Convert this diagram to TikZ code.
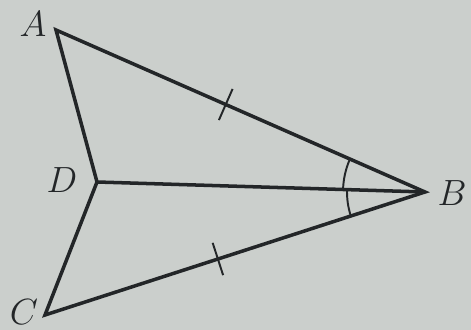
\documentclass[tikz,border=0pt]{standalone}
\usetikzlibrary{calc}
\definecolor{paper}{RGB}{203,207,204}
\definecolor{ink}{RGB}{35,38,40}
\tikzset{>=latex}
\tikzstyle{side} = [ink, line width=2pt, line join=miter]
\tikzstyle{tickline} = [ink, line width=1.1pt]
\tikzstyle{lbl} = [draw=none, inner sep=1, ink, font=\fontsize{21}{24}\selectfont]

\begin{document}
\begin{tikzpicture}[x=0.02cm, y=-0.02cm]
\fill [paper] (0, 0) rectangle (471, 330);
\useasboundingbox (0, 0) rectangle (471, 330);
\coordinate (A) at (56, 30);
\coordinate (B) at (425, 192);
\coordinate (D) at (97, 182);
\coordinate (C) at (45, 315);
\node [lbl] (lA) at (33, 24) {$A$};
\node [lbl] (lB) at (452, 193) {$B$};
\node [lbl] (lD) at (62, 180) {$D$};
\node [lbl] (lC) at (24, 312) {$C$};
\draw [side] (A) -- (B) -- (C) -- (D) -- cycle;
\draw [side] (D) -- (B);
% equal sides
\coordinate (tAB) at ($(A)!0.46!(B)$);
\coordinate (tCB) at ($(C)!0.455!(B)$);
\draw [tickline] ($(tAB)!0.34cm!90:(B)$) -- ($(tAB)!0.34cm!-90:(B)$);
\draw [tickline] ($(tCB)!0.34cm!90:(B)$) -- ($(tCB)!0.34cm!-90:(B)$);
% equal angles at B
\draw [tickline] ($(B)+(156.5:1.64cm)$) arc [start angle=156.5, end angle=178.3, radius=1.64cm];
\draw [tickline] ($(B)+(178.3:1.56cm)$) arc [start angle=178.3, end angle=197.9, radius=1.56cm];
\end{tikzpicture}
\end{document}
